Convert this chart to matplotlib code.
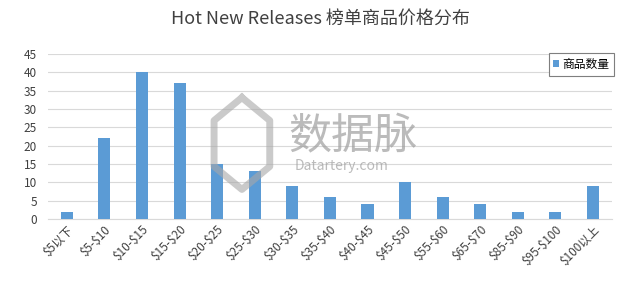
"""Hot New Releases price distribution bar chart."""
import matplotlib
matplotlib.use("Agg")
import matplotlib.pyplot as plt
import numpy as np

plt.rcParams["font.family"] = ["Noto Sans CJK SC", "DejaVu Sans"]
plt.rcParams["text.parse_math"] = False

categories = ["$5以下", "$5-$10", "$10-$15", "$15-$20", "$20-$25", "$25-$30",
              "$30-$35", "$35-$40", "$40-$45", "$45-$50", "$55-$60", "$65-$70",
              "$85-$90", "$95-$100", "$100以上"]
counts = [2, 22, 40, 37, 15, 13, 9, 6, 4, 10, 6, 4, 2, 2, 9]
y_ticks = [0, 5, 10, 15, 20, 25, 30, 35, 40, 45]

fig = plt.figure(figsize=(6.4, 2.87), dpi=100)
ax = fig.add_axes([0.075, 0.237, 0.881, 0.575])

x = np.arange(len(categories))
ax.bar(x, counts, width=0.32, color="#5B9BD5", label="商品数量", zorder=3)

ax.set_xlim(-0.5, len(categories) - 0.5)
ax.set_ylim(0, 45)
ax.set_yticks(y_ticks)
ax.set_xticks(x)
ax.set_xticklabels(categories, rotation=45, ha="right", rotation_mode="anchor",
                   fontsize=8.5, color="#404040")
ax.tick_params(axis="y", labelsize=8.5, labelcolor="#404040", length=0, pad=8)
ax.tick_params(axis="x", length=0, pad=3)
ax.grid(True, axis="y", color="#D9D9D9", linewidth=0.8, zorder=0)
for s in ["top", "right", "left"]:
    ax.spines[s].set_visible(False)
ax.spines["bottom"].set_color("#D9D9D9")

leg = ax.legend(loc="upper right", bbox_to_anchor=(1.015, 1.04), fontsize=8.5,
                handlelength=0.5, handleheight=0.5, handletextpad=0.3,
                borderpad=0.4, fancybox=False, framealpha=1)
leg.get_frame().set_edgecolor("#7F7F7F")
leg.get_frame().set_linewidth(0.8)

fig.text(0.5, 0.935, "Hot New Releases 榜单商品价格分布", ha="center", va="center",
         fontsize=13, color="#404040")

# watermark
fig.text(0.45, 0.52, "数据脉", ha="left", va="center", fontsize=31,
         color="#9E9E9E", alpha=0.7)
fig.text(0.46, 0.42, "Datartery.com", ha="left", va="center", fontsize=10,
         color="#9E9E9E", alpha=0.7)
hexagon = np.array([[0.0, 1.0], [0.87, 0.5], [0.87, -0.5], [0.0, -1.0],
                    [-0.87, -0.5], [-0.87, 0.5], [0.0, 1.0]])
fig.lines.append(plt.Line2D(0.378 + hexagon[:, 0] * 0.05, 0.5 + hexagon[:, 1] * 0.16,
                            transform=fig.transFigure, color="#A8A8A8",
                            linewidth=5, alpha=0.6))

fig.savefig("out.png", dpi=100)
